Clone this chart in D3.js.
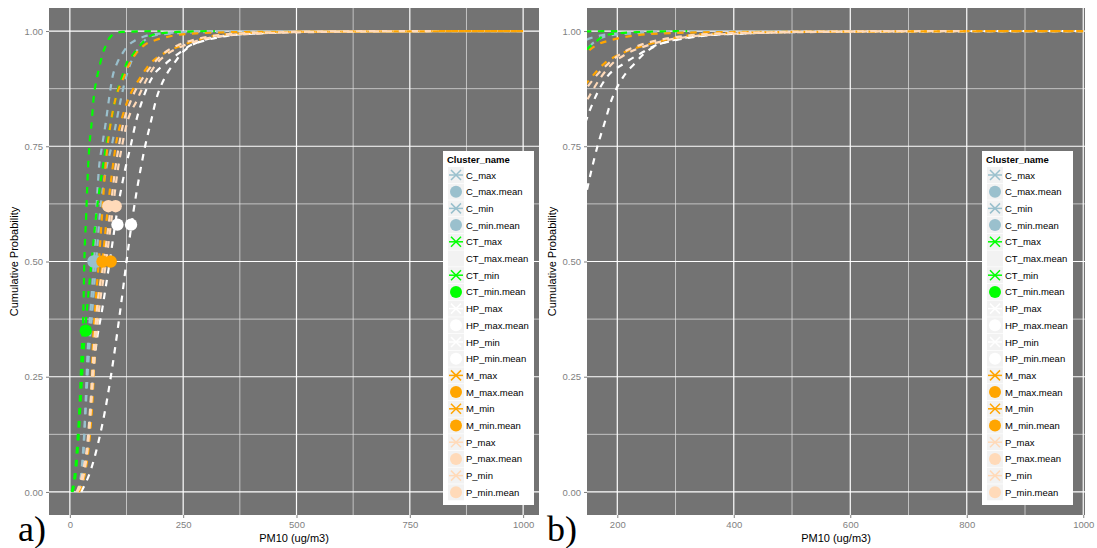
<!DOCTYPE html>
<html>
<head>
<meta charset="utf-8">
<script src="https://cdn.jsdelivr.net/npm/d3@7"></script>
<style>
  body { margin: 0; background: #fff; }
  text { font-family: "Liberation Sans", Arial, sans-serif; }
</style>
</head>
<body>
<script>
// cumulative probability levels shared by all curves
const probs = [0, 0.05, 0.1, 0.2, 0.3, 0.4, 0.5, 0.6, 0.7, 0.75, 0.8, 0.85, 0.9, 0.93, 0.95, 0.97, 0.98, 0.99, 0.995, 0.998, 1]

// PM10 value reached at each probability level, per cluster
const C_max  = [18, 26, 30, 36, 42, 50, 58, 66, 80, 92, 102, 112, 124, 134, 144, 155, 165, 185, 230, 320, 1000]
const C_min  = [20, 28, 31, 35, 39, 46, 53, 58, 64, 71, 79, 86, 94, 104, 115, 130, 145, 170, 205, 280, 500]
const CT_max = [6, 14, 18, 24, 30, 38, 48, 58, 72, 80, 90, 100, 115, 125, 140, 156, 166, 178, 200, 240, 320]
const CT_min = [4, 12, 16, 22, 26, 30, 32, 36, 40, 43, 48, 52, 60, 67, 72, 80, 84, 92, 100, 115, 200]
const HP_max = [25, 47, 61, 82, 98, 112, 125, 139, 156, 166, 178, 190, 210, 230, 245, 270, 295, 345, 420, 520, 1000]
const HP_min = [20, 34, 40, 47, 56, 72, 88, 103, 122, 134, 145, 160, 182, 212, 238, 268, 300, 350, 420, 500, 1000]
const M_max  = [20, 35, 42, 50, 55, 62, 72, 82, 94, 101, 112, 128, 156, 178, 205, 250, 280, 320, 380, 500, 1000]
const M_min  = [18, 33, 40, 47, 50, 56, 64, 71, 78, 83, 90, 100, 119, 132, 145, 165, 188, 228, 280, 400, 1000]
const P_max  = [17, 33, 40, 48, 55, 65, 80, 93, 106, 115, 126, 148, 172, 192, 215, 255, 285, 340, 420, 550, 800]
const P_min  = [15, 30, 38, 46, 52, 60, 75, 88, 100, 108, 118, 135, 162, 185, 205, 240, 270, 320, 380, 500, 700]

// mean markers
const meanNames = ['C_max.mean', 'C_min.mean', 'CT_min.mean', 'HP_max.mean', 'HP_min.mean', 'M_max.mean', 'M_min.mean', 'P_max.mean', 'P_min.mean']
const meanX = [58, 52, 35, 135, 105, 90, 72, 101, 85]
const meanP = [0.5, 0.5, 0.35, 0.58, 0.58, 0.5, 0.5, 0.62, 0.62]

// legend
const legendNames = ['C_max', 'C_max.mean', 'C_min', 'C_min.mean', 'CT_max', 'CT_max.mean', 'CT_min', 'CT_min.mean',
  'HP_max', 'HP_max.mean', 'HP_min', 'HP_min.mean', 'M_max', 'M_max.mean', 'M_min', 'M_min.mean',
  'P_max', 'P_max.mean', 'P_min', 'P_min.mean']

const colors = { C: '#9ac0cd', CT: '#00ff00', HP: '#ffffff', M: '#ffa500', P: '#ffdab9' }
const clusterOf = name => name.split('_')[0]

const curves = [
  ['C_max', C_max], ['C_min', C_min], ['CT_max', CT_max], ['CT_min', CT_min],
  ['HP_max', HP_max], ['HP_min', HP_min], ['M_max', M_max], ['M_min', M_min],
  ['P_max', P_max], ['P_min', P_min]
].map(([name, vals]) => ({ name, color: colors[clusterOf(name)], pts: vals.map((v, i) => [v, probs[i]]) }))

const means = meanNames.map((n, i) => ({ name: n, color: colors[clusterOf(n)], x: meanX[i], p: meanP[i] }))

const W = 1097, H = 548
const svg = d3.select('body').append('svg').attr('width', W).attr('height', H)

const TOP = 8, BOTTOM = 515

const panels = [
  { id: 'a', left: 49, right: 539, domain: [-46, 1035], major: [0, 250, 500, 750, 1000], minor: [125, 375, 625, 875], legendX: 443, tagX: 18 },
  { id: 'b', left: 587, right: 1085, domain: [148, 1003], major: [200, 400, 600, 800, 1000], minor: [300, 500, 700, 900], legendX: 982, tagX: 547 }
]

const y = d3.scaleLinear().domain([-0.05, 1.05]).range([BOTTOM, TOP])
const yMajor = [0, 0.25, 0.5, 0.75, 1]
const yMinor = [0.125, 0.375, 0.625, 0.875]

panels.forEach(drawPanel)

function drawPanel(cfg) {
  const x = d3.scaleLinear().domain(cfg.domain).range([cfg.left, cfg.right])
  const g = svg.append('g')

  g.append('rect')
    .attr('x', cfg.left).attr('y', TOP)
    .attr('width', cfg.right - cfg.left).attr('height', BOTTOM - TOP)
    .attr('fill', '#737373')

  // grid
  g.selectAll('.vmin').data(cfg.minor).join('line')
    .attr('x1', d => x(d)).attr('x2', d => x(d)).attr('y1', TOP).attr('y2', BOTTOM)
    .attr('stroke', '#e6e6e6').attr('stroke-width', 0.7)
  g.selectAll('.hmin').data(yMinor).join('line')
    .attr('y1', d => y(d)).attr('y2', d => y(d)).attr('x1', cfg.left).attr('x2', cfg.right)
    .attr('stroke', '#e6e6e6').attr('stroke-width', 0.7)
  g.selectAll('.vmaj').data(cfg.major).join('line')
    .attr('x1', d => x(d)).attr('x2', d => x(d)).attr('y1', TOP).attr('y2', BOTTOM)
    .attr('stroke', '#ffffff').attr('stroke-width', 1.2)
  g.selectAll('.hmaj').data(yMajor).join('line')
    .attr('y1', d => y(d)).attr('y2', d => y(d)).attr('x1', cfg.left).attr('x2', cfg.right)
    .attr('stroke', '#ffffff').attr('stroke-width', 1.2)

  // axes
  const xAxis = g.append('g').attr('transform', `translate(0,${BOTTOM})`)
    .call(d3.axisBottom(x).tickValues(cfg.major).tickSize(3).tickPadding(3).tickFormat(d3.format('d')))
  const yAxis = g.append('g').attr('transform', `translate(${cfg.left},0)`)
    .call(d3.axisLeft(y).tickValues(yMajor).tickSize(3).tickPadding(3).tickFormat(d3.format('.2f')))
  ;[xAxis, yAxis].forEach(a => {
    a.select('.domain').remove()
    a.selectAll('.tick line').attr('stroke', '#7f7f7f')
    a.selectAll('.tick text').attr('fill', '#7f7f7f').style('font-size', '9.5px')
  })

  // axis titles
  g.append('text')
    .attr('x', (cfg.left + cfg.right) / 2).attr('y', 542)
    .attr('text-anchor', 'middle').style('font-size', '11px').attr('fill', '#000')
    .text('PM10 (ug/m3)')
  g.append('text')
    .attr('transform', `translate(${cfg.left - 31},${(TOP + BOTTOM) / 2}) rotate(-90)`)
    .attr('text-anchor', 'middle').style('font-size', '11px').attr('fill', '#000')
    .text('Cumulative Probability')

  // curves
  const clipId = 'clip-' + cfg.id
  g.append('clipPath').attr('id', clipId)
    .append('rect').attr('x', cfg.left).attr('y', TOP)
    .attr('width', cfg.right - cfg.left).attr('height', BOTTOM - TOP)

  const plot = g.append('g').attr('clip-path', `url(#${clipId})`)
  const line = d3.line().x(d => x(d[0])).y(d => y(d[1])).curve(d3.curveMonotoneX)

  plot.selectAll('.curve').data(curves).join('path')
    .attr('d', d => line(d.pts))
    .attr('fill', 'none')
    .attr('stroke', d => d.color)
    .attr('stroke-width', 2.2)
    .attr('stroke-dasharray', '6.5,6.5')

  plot.selectAll('.mean').data(means).join('circle')
    .attr('cx', d => x(d.x)).attr('cy', d => y(d.p)).attr('r', 6.2)
    .attr('fill', d => d.color)

  // legend
  const lx = cfg.legendX, ly = 151
  const rowH = 16.7
  const lg = g.append('g')
  lg.append('rect').attr('x', lx).attr('y', ly).attr('width', 91).attr('height', 354).attr('fill', '#fff')
  lg.append('text').attr('x', lx + 4).attr('y', ly + 12)
    .style('font-size', '9.5px').style('font-weight', 'bold').text('Cluster_name')

  legendNames.forEach((n, i) => {
    const cy = ly + 24 + i * rowH
    const kx = lx + 5
    const col = colors[clusterOf(n)]
    lg.append('rect').attr('x', kx).attr('y', cy - 8).attr('width', 16).attr('height', 16).attr('fill', '#f2f2f2')
    const isMean = n.endsWith('.mean')
    const hasMean = meanNames.includes(n)
    if (!isMean) {
      lg.append('line').attr('x1', kx + 1).attr('x2', kx + 15).attr('y1', cy).attr('y2', cy)
        .attr('stroke', col).attr('stroke-width', 1.5)
      lg.append('path')
        .attr('d', `M${kx + 3},${cy - 5}L${kx + 13},${cy + 5}M${kx + 3},${cy + 5}L${kx + 13},${cy - 5}`)
        .attr('stroke', col).attr('stroke-width', 1.5)
    } else if (hasMean) {
      lg.append('circle').attr('cx', kx + 8).attr('cy', cy).attr('r', 6).attr('fill', col)
    }
    lg.append('text').attr('x', kx + 18).attr('y', cy + 3.5).style('font-size', '9.5px').attr('fill', '#000').text(n)
  })

  // panel tag
  svg.append('text').attr('x', cfg.tagX).attr('y', 541)
    .style('font-family', '"Liberation Serif", "Times New Roman", serif').style('font-size', '36px')
    .text(cfg.id + ')')
}
</script>
</body>
</html>
